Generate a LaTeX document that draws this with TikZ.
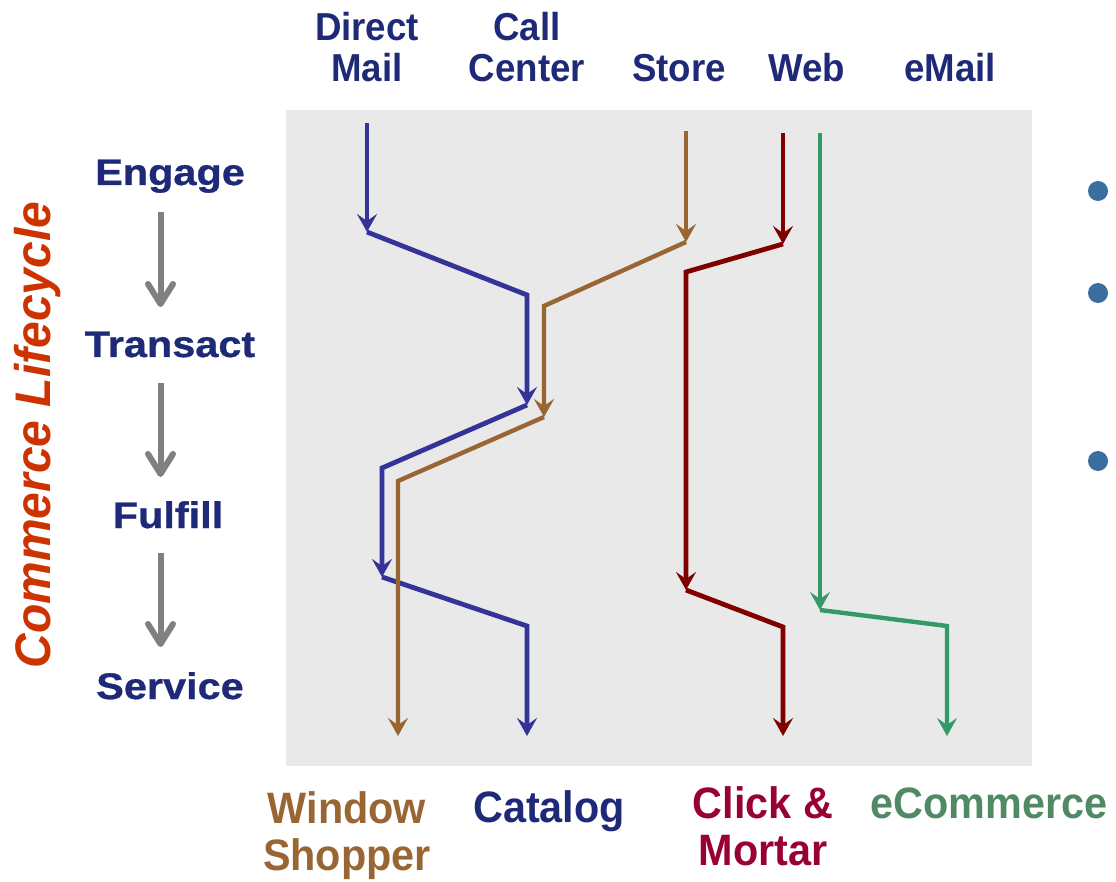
\documentclass[tikz,border=0pt]{standalone}
\usepackage{fontspec}
\setmainfont{Liberation Sans}
\newfontfamily\stagefont{Liberation Sans}[FakeStretch=1.12,FakeBold=0.8]
\newfontfamily\chanfont{Liberation Sans}[FakeStretch=0.94]
\newfontfamily\cyclefont{Liberation Sans}[FakeStretch=0.96]
\usetikzlibrary{arrows.meta}

\definecolor{panel}{RGB}{233,233,233}
\definecolor{navy}{RGB}{30,42,120}
\definecolor{catblue}{RGB}{51,51,153}
\definecolor{shopbrown}{RGB}{153,102,51}
\definecolor{mortarred}{RGB}{128,0,0}
\definecolor{webgreen}{RGB}{51,153,102}
\definecolor{clicktext}{RGB}{153,0,51}
\definecolor{ecomtext}{RGB}{80,138,101}
\definecolor{cycleorange}{RGB}{204,51,0}
\definecolor{stagegray}{RGB}{128,128,128}
\definecolor{dotblue}{RGB}{58,110,158}

\begin{document}
\begin{tikzpicture}[x=1pt,y=-1pt,
  chan/.style={font=\chanfont\bfseries\fontsize{39}{41}\selectfont, text=navy, align=center, anchor=base, inner sep=0pt},
  result/.style={font=\chanfont\bfseries\fontsize{44}{47}\selectfont, align=center, anchor=base, inner sep=0pt},
  stage/.style={font=\stagefont\bfseries\fontsize{37}{42}\selectfont, text=navy, anchor=base, inner sep=0pt},
  stagearrow/.style={draw=stagegray, line width=6pt, -{Straight Barb[length=20pt,width=25pt,round]}},
  tipped/.style={-{Stealth[length=18pt,width=20pt,inset=7pt]}, line join=miter},
  catalog/.style={draw=catblue, line width=4.8pt, tipped},
  shopper/.style={draw=shopbrown, line width=4.4pt, tipped},
  mortar/.style={draw=mortarred, line width=4.8pt, tipped},
  ecom/.style={draw=webgreen, line width=4.4pt, tipped},
  bullet/.style={circle, fill=dotblue, minimum size=20pt, inner sep=0pt}]

\useasboundingbox (0,0) rectangle (1116,882);

% channel-mix panel
\fill[panel] (286,110) rectangle (1032,766);

% channels across the top
\node[chan] (mail)   at (367,82)  {Direct\\Mail};
\node[chan] (call)   at (527,82)  {Call\\Center};
\node[chan] (store)  at (679,82)  {Store};
\node[chan] (web)    at (807,82)  {Web};
\node[chan] (email)  at (950,82)  {eMail};

% lifecycle stages down the side
\node[stage] (engage)   at (170,185) {Engage};
\node[stage] (transact) at (170,357) {Transact};
\node[stage] (fulfill)  at (168,528) {Fulfill};
\node[stage] (service)  at (170,699) {Service};

\coordinate (s1a) at (160.5,212); \coordinate (s1b) at (160.5,307);
\coordinate (s2a) at (160.5,383); \coordinate (s2b) at (160.5,477);
\coordinate (s3a) at (160.5,553); \coordinate (s3b) at (160.5,647);
\draw[stagearrow] (s1a) -- (s1b);
\draw[stagearrow] (s2a) -- (s2b);
\draw[stagearrow] (s3a) -- (s3b);

\node[font=\cyclefont\bfseries\itshape\fontsize{50}{55}\selectfont, text=cycleorange,
      rotate=90, anchor=base, inner sep=0pt] (cycle) at (50,435) {Commerce Lifecycle};

% customer segments along the bottom
\node[result, text=shopbrown] (shopperlbl) at (347,870) {Window\\Shopper};
\node[result, text=navy]      (cataloglbl) at (549,822) {Catalog};
\node[result, text=clicktext] (mortarlbl)  at (763,865) {Click \&\\Mortar};
\node[result, text=ecomtext]  (ecomlbl)    at (989,818) {eCommerce};

% catalog route
\coordinate (b0) at (367,123); \coordinate (b1) at (367,232);
\coordinate (b2) at (527,295); \coordinate (b3) at (527,405);
\coordinate (b4) at (382,468); \coordinate (b5) at (382,577);
\coordinate (b6) at (527,626); \coordinate (b7) at (527,736);
\draw[catalog] (b0) -- (b1);
\draw[catalog] (b1) -- (b2) -- (b3);
\draw[catalog] (b3) -- (b4) -- (b5);
\draw[catalog] (b5) -- (b6) -- (b7);

% window shopper route
\coordinate (w0) at (686,131); \coordinate (w1) at (686,242);
\coordinate (w2) at (544,306); \coordinate (w3) at (544,417);
\coordinate (w4) at (398,481); \coordinate (w5) at (398,736);
\draw[shopper] (w0) -- (w1);
\draw[shopper] (w1) -- (w2) -- (w3);
\draw[shopper] (w3) -- (w4) -- (w5);

% click & mortar route
\coordinate (r0) at (783,133); \coordinate (r1) at (783,244);
\coordinate (r2) at (686,272); \coordinate (r3) at (686,590);
\coordinate (r4) at (783,627); \coordinate (r5) at (783,736);
\draw[mortar] (r0) -- (r1);
\draw[mortar] (r1) -- (r2) -- (r3);
\draw[mortar] (r3) -- (r4) -- (r5);

% ecommerce route
\coordinate (g0) at (820,133); \coordinate (g1) at (820,610);
\coordinate (g2) at (947,626); \coordinate (g3) at (947,736);
\draw[ecom] (g0) -- (g1);
\draw[ecom] (g1) -- (g2) -- (g3);

% bullets on the right
\node[bullet] (dot1) at (1098,191) {};
\node[bullet] (dot2) at (1098,293) {};
\node[bullet] (dot3) at (1098,461) {};
\end{tikzpicture}
\end{document}
